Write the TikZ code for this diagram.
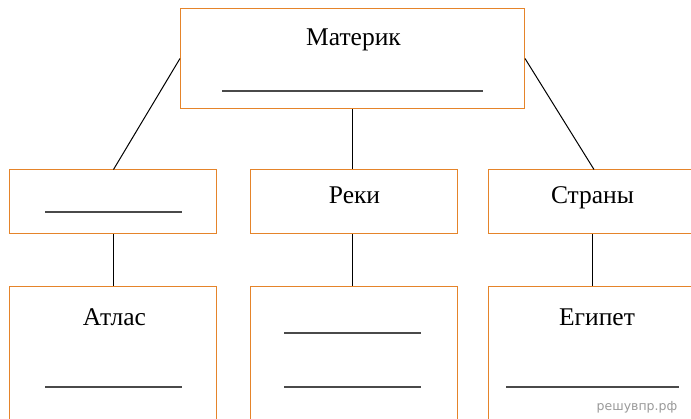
\documentclass[tikz,border=0pt]{standalone}
\usepackage{fontspec}
\setmainfont{Liberation Serif}
\newfontfamily\wmfont{DejaVu Sans}
\definecolor{boxorange}{HTML}{E5842A}
\definecolor{blankgray}{HTML}{4A4A4A}
\definecolor{wmgray}{HTML}{9A9A9A}
\begin{document}
\begin{tikzpicture}[x=1pt,y=-1pt,
  box/.style={draw=boxorange,line width=1pt,rectangle,inner sep=0pt,fill=white},
  lbl/.style={anchor=base,inner sep=0pt,font=\fontsize{25.5}{30}\selectfont},
  blank/.style={draw=blankgray,line width=2pt},
  conn/.style={draw=black,line width=1pt}]
\useasboundingbox (0,0) rectangle (691,418);
\clip (0,0) rectangle (691,418);
% boxes
\node[box,minimum width=344pt,minimum height=100pt] (top) at (352.5,58.5) {};
\node[box,minimum width=207pt,minimum height=64pt] (ml) at (113,201.5) {};
\node[box,minimum width=207pt,minimum height=64pt] (mm) at (354,201.5) {};
\node[box,minimum width=207pt,minimum height=64pt] (mr) at (592,201.5) {};
\node[box,minimum width=207pt,minimum height=160pt] (bl) at (113,366.5) {};
\node[box,minimum width=207pt,minimum height=160pt] (bm) at (354,366.5) {};
\node[box,minimum width=207pt,minimum height=160pt] (br) at (592,366.5) {};
% connectors
\coordinate (tl) at (113.5,169.5);
\coordinate (tr) at (594,169.5);
\draw[conn] (top.west) -- (tl);
\draw[conn] (top.east) -- (tr);
\draw[conn] (top.south -| 352.5,0) -- (mm.north -| 352.5,0);
\draw[conn] (ml.south -| 113.5,0) -- (bl.north -| 113.5,0);
\draw[conn] (mm.south -| 352.5,0) -- (bm.north -| 352.5,0);
\draw[conn] (mr.south -| 592.5,0) -- (br.north -| 592.5,0);
% labels
\node[lbl] (t1) at (353.5,45) {Материк};
\node[lbl] (t2) at (354.5,203) {Реки};
\node[lbl] (t3) at (592.5,203) {Страны};
\node[lbl] (t4) at (114.5,325) {Атлас};
\node[lbl] (t5) at (597,325) {Египет};
% blank lines
\coordinate (b1a) at (222,90.5); \coordinate (b1b) at (483,90.5);
\draw[blank] (b1a) -- (b1b);
\coordinate (b2a) at (45,211.5); \coordinate (b2b) at (182,211.5);
\draw[blank] (b2a) -- (b2b);
\coordinate (b3a) at (45,386.5); \coordinate (b3b) at (182,386.5);
\draw[blank] (b3a) -- (b3b);
\coordinate (b4a) at (284,332.5); \coordinate (b4b) at (421,332.5);
\draw[blank] (b4a) -- (b4b);
\coordinate (b5a) at (284,386.5); \coordinate (b5b) at (421,386.5);
\draw[blank] (b5a) -- (b5b);
\coordinate (b6a) at (506,386.5); \coordinate (b6b) at (679,386.5);
\draw[blank] (b6a) -- (b6b);
% watermark
\node[anchor=base,inner sep=0pt,text=wmgray,font=\wmfont\fontsize{12.5}{14}\selectfont] (wm) at (637,410) {решувпр.рф};
\end{tikzpicture}
\end{document}
